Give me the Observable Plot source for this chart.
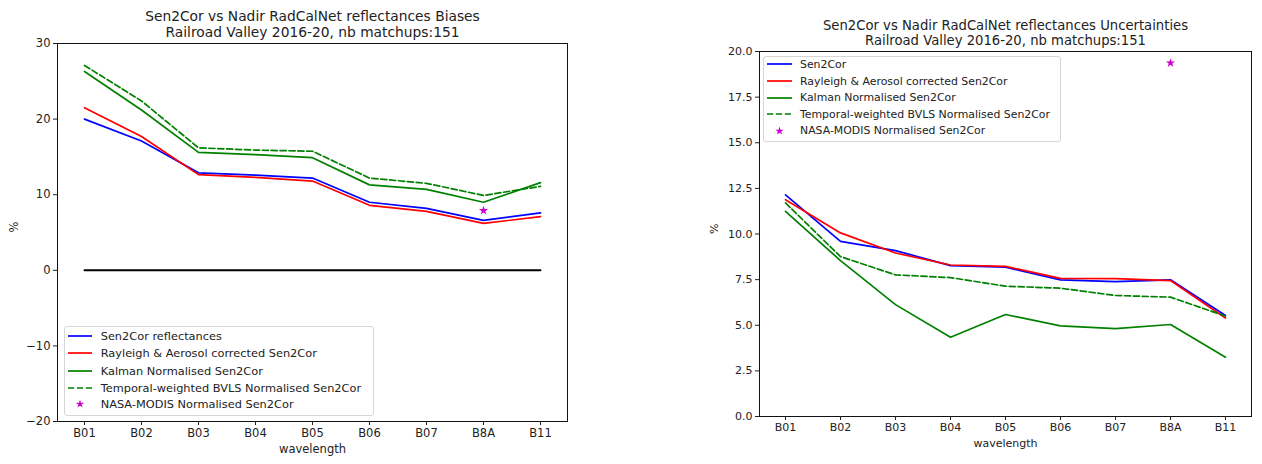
<!DOCTYPE html>
<html><head><meta charset="utf-8">
<script src="https://cdn.jsdelivr.net/npm/d3@7"></script>
<script src="https://cdn.jsdelivr.net/npm/@observablehq/plot@0.6"></script>
<style>
body{margin:0;background:#fff;font-family:"DejaVu Sans",sans-serif;}
#wrap{position:relative;width:1262px;height:464px;overflow:hidden;background:#fff;}
.panel{position:absolute;top:0;}
.legend{position:absolute;background:rgba(255,255,255,0.8);border:1px solid #d6d6d6;border-radius:3px;color:#222;box-sizing:border-box;}
.row{position:absolute;left:0;height:16px;display:flex;align-items:center;white-space:nowrap;}
.row svg{flex:none;}
</style></head><body><div id="wrap"></div>
<script>
const bands = ["B01","B02","B03","B04","B05","B06","B07","B8A","B11"];

// Biases (%)
const biasSen2Cor  = [20.0, 17.1, 12.9, 12.6, 12.2, 9.0, 8.2, 6.6, 7.6];
const biasRayleigh = [21.5, 17.7, 12.65, 12.3, 11.8, 8.6, 7.8, 6.2, 7.1];
const biasKalman   = [26.3, 21.2, 15.6, 15.3, 14.9, 11.3, 10.7, 9.0, 11.6];
const biasBVLS     = [27.1, 22.4, 16.2, 15.9, 15.75, 12.2, 11.5, 9.9, 11.1];
const biasModis    = {band: "B8A", value: 7.9};
const biasZero     = [0, 0, 0, 0, 0, 0, 0, 0, 0];

// Uncertainties (%)
const uncSen2Cor  = [12.14, 9.6, 9.09, 8.27, 8.18, 7.49, 7.39, 7.49, 5.53];
const uncRayleigh = [11.88, 10.06, 8.96, 8.3, 8.23, 7.57, 7.55, 7.45, 5.4];
const uncKalman   = [11.24, 8.54, 6.13, 4.34, 5.59, 4.97, 4.82, 5.04, 3.25];
const uncBVLS     = [11.7, 8.76, 7.76, 7.61, 7.14, 7.03, 6.63, 6.54, 5.5];
const uncModis    = {band: "B8A", value: 19.37};

const biasTicks = [-20, -10, 0, 10, 20, 30];
const uncTicks = [0, 2.5, 5, 7.5, 10, 12.5, 15, 17.5, 20];

const leftLegend = ["Sen2Cor reflectances", "Rayleigh & Aerosol corrected Sen2Cor", "Kalman Normalised Sen2Cor", "Temporal-weighted BVLS Normalised Sen2Cor", "NASA-MODIS Normalised Sen2Cor"];
const rightLegend = ["Sen2Cor", "Rayleigh & Aerosol corrected Sen2Cor", "Kalman Normalised Sen2Cor", "Temporal-weighted BVLS Normalised Sen2Cor", "NASA-MODIS Normalised Sen2Cor"];

const styles = [
  {stroke: "#0000ff"},
  {stroke: "#ff0000"},
  {stroke: "#008000"},
  {stroke: "#008000", dash: "6.2,2.7"},
  {star: true}
];
const MAG = "#cc00cc";

const rows = (vals) => bands.map((b, i) => ({band: b, value: vals[i]}));

function panel(o) {
  const fs = o.fs;
  const marks = [
    Plot.frame({stroke: "#111", strokeWidth: 1}),
    Plot.axisX({tickSize: 4, tickPadding: 3, fontSize: fs, label: null}),
    Plot.axisY({ticks: o.ticks, tickFormat: o.fmt, tickSize: 4, tickPadding: 3, fontSize: fs, label: null})
  ];
  if (o.zero) marks.push(Plot.line(rows(o.zero), {x: "band", y: "value", stroke: "black", strokeWidth: 1.9}));
  o.series.forEach((s, i) => {
    marks.push(Plot.line(rows(s), {x: "band", y: "value", stroke: styles[i].stroke, strokeWidth: 1.7, strokeDasharray: styles[i].dash || null}));
  });
  marks.push(Plot.dot([o.modis], {x: "band", y: "value", symbol: "star", r: 2.9, fill: MAG, stroke: "none"}));
  marks.push(Plot.text([o.title1], {frameAnchor: "top", lineAnchor: "middle", dy: o.t1dy, fontSize: o.tfs, fill: "#222"}));
  marks.push(Plot.text([o.title2], {frameAnchor: "top", lineAnchor: "middle", dy: o.t2dy, fontSize: o.tfs, fill: "#222"}));
  marks.push(Plot.text(["wavelength"], {frameAnchor: "bottom", lineAnchor: "middle", dy: o.xldy, fontSize: fs, fill: "#222"}));
  marks.push(Plot.text(["%"], {frameAnchor: "left", lineAnchor: "middle", dx: o.yldx, rotate: -90, fontSize: fs, fill: "#222"}));
  return Plot.plot({
    width: o.width, height: 464,
    marginLeft: o.mL, marginRight: o.mR, marginTop: o.mT, marginBottom: o.mB,
    style: {fontFamily: "DejaVu Sans", fontSize: fs + "px", color: "#222", background: "transparent", overflow: "visible"},
    x: {type: "point", domain: bands, padding: 0.41},
    y: {domain: o.domain},
    marks
  });
}

function legend(labels, box, rowYs, lineX, textX, fs) {
  const div = document.createElement("div");
  div.className = "legend";
  Object.assign(div.style, {left: box[0] + "px", top: box[1] + "px", width: (box[2] - box[0]) + "px", height: (box[3] - box[1]) + "px", fontSize: fs + "px"});
  labels.forEach((lab, i) => {
    const r = document.createElement("div");
    r.className = "row";
    r.style.top = (rowYs[i] - box[1] - 1 - 8) + "px";
    const s = styles[i];
    const x0 = lineX[0] - box[0] - 1, x1 = lineX[1] - box[0] - 1, tw = textX - box[0] - 1;
    let sw;
    if (s.star) {
      sw = `<svg width="${tw}" height="16"><path transform="translate(${(x0 + x1) / 2},8)" d="${d3.symbol(d3.symbolStar, 22)()}" fill="${MAG}"/></svg>`;
    } else {
      sw = `<svg width="${tw}" height="16"><line x1="${x0}" x2="${x1}" y1="8" y2="8" stroke="${s.stroke}" stroke-width="1.7" ${s.dash ? `stroke-dasharray="${s.dash}"` : ""}/></svg>`;
    }
    r.innerHTML = sw + `<span>${lab.replace(/&/g, "&amp;")}</span>`;
    div.appendChild(r);
  });
  return div;
}

const wrap = document.getElementById("wrap");

const p1 = panel({
  series: [biasSen2Cor, biasRayleigh, biasKalman, biasBVLS],
  modis: biasModis, zero: biasZero,
  domain: [-20, 30], ticks: biasTicks, fmt: d3.format("d"),
  width: 600, mL: 57, mR: 33, mT: 43, mB: 43, fs: 11.5, tfs: 13.8,
  title1: "Sen2Cor vs Nadir RadCalNet reflectances Biases",
  title2: "Railroad Valley 2016-20, nb matchups:151",
  t1dy: -27, t2dy: -10.7, xldy: 28, yldx: -43
});
p1.classList.add("panel"); p1.style.left = "0px";
wrap.appendChild(p1);

const p2 = panel({
  series: [uncSen2Cor, uncRayleigh, uncKalman, uncBVLS],
  modis: uncModis, zero: null,
  domain: [0, 20], ticks: uncTicks, fmt: d3.format(".1f"),
  width: 622, mL: 119, mR: 11, mT: 51, mB: 48, fs: 11, tfs: 13.2,
  title1: "Sen2Cor vs Nadir RadCalNet reflectances Uncertainties",
  title2: "Railroad Valley 2016-20, nb matchups:151",
  t1dy: -26, t2dy: -10.5, xldy: 27, yldx: -45
});
p2.classList.add("panel"); p2.style.left = "640px";
wrap.appendChild(p2);

wrap.appendChild(legend(leftLegend, [64, 326, 374, 416], [335.7, 353.3, 370.7, 387.7, 404.3], [68, 92], 100.7, 11.35));
wrap.appendChild(legend(rightLegend, [763, 56, 1061, 142], [64.3, 81.1, 97.6, 114, 130.5], [767, 792], 800, 10.9));
</script></body></html>
